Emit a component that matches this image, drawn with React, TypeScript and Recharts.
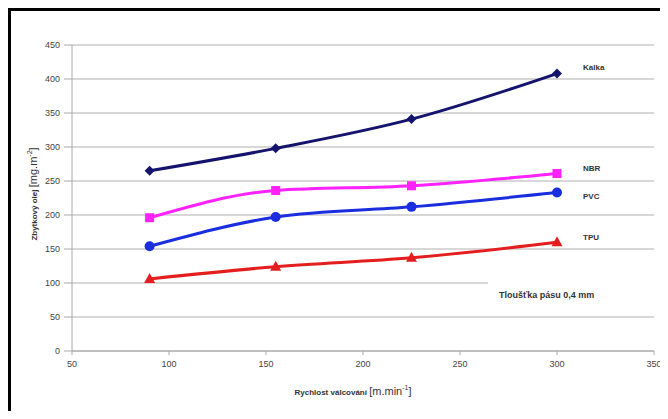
import React from "react";
import {
  LineChart,
  Line,
  XAxis,
  YAxis,
  CartesianGrid,
  LabelList,
} from "recharts";

const speeds = [90, 155, 225, 300];
const kalka = [265, 298, 341, 408];
const nbr = [196, 236, 243, 261];
const pvc = [154, 197, 212, 233];
const tpu = [106, 124, 137, 160];
const xTicks = [50, 100, 150, 200, 250, 300, 350];
const yTicks = [0, 50, 100, 150, 200, 250, 300, 350, 400, 450];

const data = speeds.map((s, i) => ({
  speed: s,
  kalka: kalka[i],
  nbr: nbr[i],
  pvc: pvc[i],
  tpu: tpu[i],
}));

const FONT = "'Liberation Sans', Arial, sans-serif";

// no scrollbars, the frame runs off the right and bottom edge
if (typeof document !== "undefined") {
  document.documentElement.style.overflow = "hidden";
  document.body.style.overflow = "hidden";
}

const Diamond = (props: any) => {
  const { cx, cy, fill } = props;
  if (cx == null || cy == null) return null;
  const r = 5;
  return (
    <path
      d={`M${cx},${cy - r}L${cx + r},${cy}L${cx},${cy + r}L${cx - r},${cy}Z`}
      fill={fill}
    />
  );
};

const Square = (props: any) => {
  const { cx, cy, fill } = props;
  if (cx == null || cy == null) return null;
  return <rect x={cx - 4.5} y={cy - 4.5} width={9} height={9} fill={fill} />;
};

const Circle = (props: any) => {
  const { cx, cy, fill } = props;
  if (cx == null || cy == null) return null;
  return <circle cx={cx} cy={cy} r={5} fill={fill} />;
};

const Triangle = (props: any) => {
  const { cx, cy, fill } = props;
  if (cx == null || cy == null) return null;
  return (
    <path
      d={`M${cx},${cy - 6}L${cx + 5.5},${cy + 4}L${cx - 5.5},${cy + 4}Z`}
      fill={fill}
    />
  );
};

const endLabel = (name: string, dy: number) => (props: any) => {
  const { x, y, index } = props;
  if (index !== speeds.length - 1) return null;
  return (
    <text
      x={x + 26}
      y={y + dy}
      fontSize={8}
      fontFamily={FONT}
      fill="#333"
      fontWeight="bold"
    >
      {name}
    </text>
  );
};

const YLabel = (props: any) => {
  const { viewBox } = props;
  const cx = 29;
  const cy = viewBox.y + viewBox.height / 2 - 4;
  return (
    <text
      transform={`translate(${cx},${cy}) rotate(-90)`}
      textAnchor="middle"
      fontFamily={FONT}
      fill="#333"
    >
      <tspan fontSize={8} fontWeight="bold">Zbytkový olej </tspan>
      <tspan fontSize={11}> [mg.m</tspan>
      <tspan fontSize={7} dy={-5}>-2</tspan>
      <tspan fontSize={11} dy={5}>]</tspan>
    </text>
  );
};

const XLabel = (props: any) => {
  const { viewBox } = props;
  const cx = viewBox.x + viewBox.width / 2 - 10;
  const cy = 387;
  return (
    <text x={cx} y={cy} textAnchor="middle" fontFamily={FONT} fill="#333">
      <tspan fontSize={8} fontWeight="bold">Rychlost válcování </tspan>
      <tspan fontSize={11}> [m.min</tspan>
      <tspan fontSize={7} dy={-5}>-1</tspan>
      <tspan fontSize={11} dy={5}>]</tspan>
    </text>
  );
};

export default function App() {
  return (
    <div
      style={{
        position: "relative",
        width: 660,
        height: 403,
        overflow: "hidden",
      }}
    >
      <div
        style={{
          position: "absolute",
          left: 0,
          top: 0,
          width: 660,
          height: 3,
          background: "#000",
        }}
      />
      <div
        style={{
          position: "absolute",
          left: 0,
          top: 0,
          width: 3,
          height: 403,
          background: "#000",
        }}
      />
      <div style={{ position: "absolute", left: 0, top: 0 }}>
        <LineChart
          width={660}
          height={411}
          data={data}
          margin={{ top: 37, right: 14, left: 34, bottom: 38 }}
        >
          <CartesianGrid
            vertical={false}
            stroke="#b0b0b0"
            strokeWidth={1.2}
          />
          <XAxis
            type="number"
            dataKey="speed"
            domain={[50, 350]}
            ticks={xTicks}
            interval={0}
            height={30}
            stroke="#a8a8a8"
            tickSize={4}
            tick={{ fontSize: 9, fill: "#444", fontFamily: FONT }}
            tickMargin={6}
            label={<XLabel />}
          />
          <YAxis
            type="number"
            domain={[0, 450]}
            ticks={yTicks}
            interval={0}
            width={30}
            stroke="#a8a8a8"
            tickSize={8}
            tick={{ fontSize: 9, fill: "#444", fontFamily: FONT }}
            tickMargin={4}
            label={<YLabel />}
          />
          <Line
            type="monotone"
            dataKey="kalka"
            stroke="#14146e"
            strokeWidth={3}
            dot={<Diamond fill="#14146e" />}
            isAnimationActive={false}
          >
            <LabelList content={endLabel("Kalka", -4)} />
          </Line>
          <Line
            type="monotone"
            dataKey="nbr"
            stroke="#ff22ff"
            strokeWidth={3}
            dot={<Square fill="#ff22ff" />}
            isAnimationActive={false}
          >
            <LabelList content={endLabel("NBR", -3)} />
          </Line>
          <Line
            type="monotone"
            dataKey="pvc"
            stroke="#1a2ee0"
            strokeWidth={3}
            dot={<Circle fill="#1a2ee0" />}
            isAnimationActive={false}
          >
            <LabelList content={endLabel("PVC", 6)} />
          </Line>
          <Line
            type="monotone"
            dataKey="tpu"
            stroke="#e41e1e"
            strokeWidth={3}
            dot={<Triangle fill="#e41e1e" />}
            isAnimationActive={false}
          >
            <LabelList content={endLabel("TPU", -2)} />
          </Line>
        </LineChart>
      </div>
      <div
        style={{
          position: "absolute",
          left: 480,
          top: 272,
          width: 170,
          height: 30,
          background: "#fff",
          fontFamily: FONT,
          fontSize: 9,
          fontWeight: "bold",
          color: "#333",
          lineHeight: "30px",
          paddingLeft: 11,
          boxSizing: "border-box",
        }}
      >
        Tloušťka pásu 0,4 mm
      </div>
    </div>
  );
}
